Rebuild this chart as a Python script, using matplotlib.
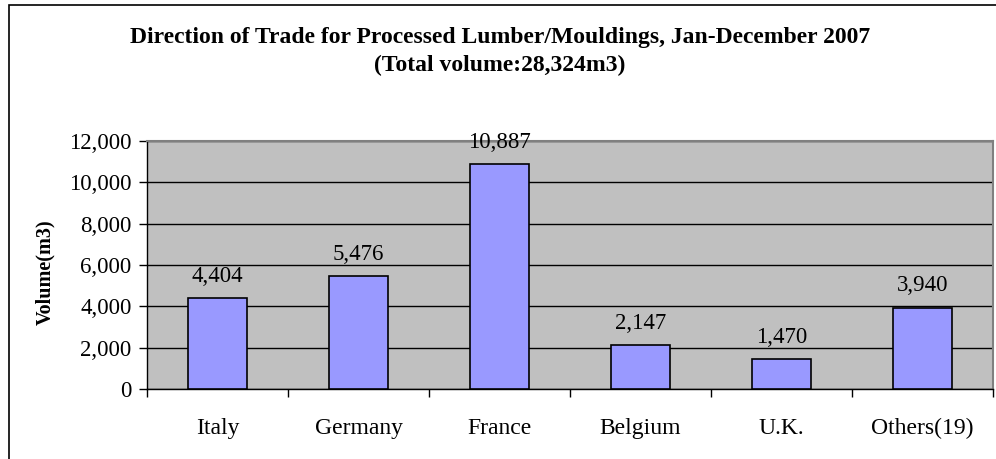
import matplotlib.pyplot as plt
from matplotlib.patches import Rectangle
from matplotlib.ticker import FuncFormatter, MultipleLocator

# data
countries = ['Italy', 'Germany', 'France', 'Belgium', 'U.K.', 'Others(19)']
volumes = [4404, 5476, 10887, 2147, 1470, 3940]

plt.rcParams['font.family'] = ['Liberation Serif', 'DejaVu Serif']

fig = plt.figure(figsize=(9.96, 4.59), dpi=100)

# outer chart border (only left and top visible in the crop)
fig.patches.append(Rectangle((9 / 996, -0.1), 1.2, (459 - 5) / 459 + 0.1,
                             transform=fig.transFigure, fill=False,
                             edgecolor='black', linewidth=1.2))

ax = fig.add_axes([147 / 996, 70 / 459, 846 / 996, 248 / 459])
ax.set_facecolor('#C0C0C0')

x = range(len(countries))
ax.bar(x, volumes, width=0.42, color='#9999FF', edgecolor='black',
       linewidth=1.2, zorder=3)

for i, v in enumerate(volumes):
    ax.annotate('{:,}'.format(v), (i, v), xytext=(0, 8), textcoords='offset points',
                ha='center', va='bottom', fontsize=16.5, zorder=4)

ax.set_xlim(-0.5, len(countries) - 0.5)
ax.set_ylim(0, 12000)
ax.yaxis.set_major_locator(MultipleLocator(2000))
ax.yaxis.set_major_formatter(FuncFormatter(lambda v, p: '{:,}'.format(int(v))))
ax.grid(axis='y', color='black', linewidth=1, zorder=1)

ax.set_xticks([i + 0.5 for i in range(-1, len(countries))])
ax.set_xticklabels([])
ax.set_xticks(list(x), minor=True)
ax.set_xticklabels(countries, minor=True, fontsize=17)
ax.tick_params(axis='x', which='major', length=6, width=1, color='black')
ax.tick_params(axis='x', which='minor', length=0, pad=21)
ax.tick_params(axis='y', length=6, width=1, labelsize=16.5, pad=5)

for s in ['top', 'right']:
    ax.spines[s].set_color('#808080')
    ax.spines[s].set_linewidth(1.5)
for s in ['left', 'bottom']:
    ax.spines[s].set_color('black')
    ax.spines[s].set_linewidth(1)

ax.set_ylabel('Volume(m3)', fontsize=14.5, fontweight='bold')
ax.yaxis.set_label_coords(-0.108, 0.47)

fig.text(500 / 996, 1 - 37 / 459,
         'Direction of Trade for Processed Lumber/Mouldings, Jan-December 2007',
         ha='center', va='center', fontsize=17, fontweight='bold')
fig.text(500 / 996, 1 - 65 / 459, '(Total volume:28,324m3)',
         ha='center', va='center', fontsize=17, fontweight='bold')

fig.savefig('out.png', dpi=100)
